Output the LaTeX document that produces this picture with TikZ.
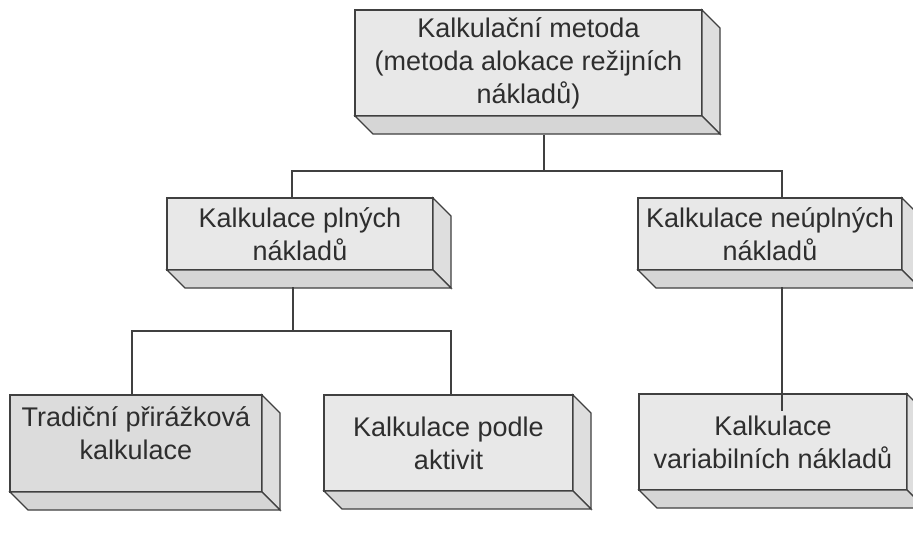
\documentclass[tikz,border=0pt]{standalone}
\usepackage{fontspec}
\setmainfont{Liberation Sans}
\definecolor{txt}{HTML}{2E2E2E}
\definecolor{edge}{HTML}{404040}
\definecolor{front}{HTML}{E8E8E8}
\definecolor{frontdk}{HTML}{DCDCDC}
\definecolor{rside}{HTML}{DEDEDE}
\definecolor{bside}{HTML}{D6D6D6}
\tikzset{
  box3d/.style={draw=edge, line width=1.3pt, fill=front, inner sep=0pt, outer sep=0pt,
    align=center, text=txt, font=\fontsize{27}{33}\selectfont},
  conn/.style={draw=edge, line width=1.1pt},
  face/.style={draw=edge, line width=1.3pt, line join=miter}
}
\begin{document}
\begin{tikzpicture}[x=1pt,y=-1pt]
\clip (0,0) rectangle (913,539);
\fill[white] (0,0) rectangle (913,539);

\node[box3d, minimum width=347pt, minimum height=106pt] (top) at (528.5,63)
  {Kalkulační metoda\\(metoda alokace režijních\\nákladů)};
\node[box3d, minimum width=266pt, minimum height=72pt] (pl) at (300,234)
  {Kalkulace plných\\nákladů};
\node[box3d, minimum width=264pt, minimum height=72pt] (np) at (770,234)
  {Kalkulace neúplných\\nákladů};
\node[box3d, minimum width=252pt, minimum height=97pt, text depth=20pt, fill=frontdk] (tk) at (136,443.5)
  {Tradiční přirážková\\kalkulace};
\node[box3d, minimum width=249pt, minimum height=96pt] (kp) at (448.5,443)
  {Kalkulace podle\\aktivit};
\node[box3d, minimum width=268pt, minimum height=96pt] (vn) at (773,442)
  {Kalkulace\\variabilních nákladů};

\foreach \n in {top,pl,np,tk,kp,vn}{
  \draw[face, fill=rside] (\n.north east) -- ++(18,18) -- ([shift={(18,18)}]\n.south east) -- (\n.south east) -- cycle;
  \draw[face, fill=bside] (\n.south west) -- (\n.south east) -- ++(18,18) -- ([shift={(18,18)}]\n.south west) -- cycle;
}

% connectors
\draw[conn] ([xshift=15.5pt,yshift=-19pt]top.south) -- ++(0,36) coordinate (j1) -| ([xshift=-8pt]pl.north);
\draw[conn] (j1) -| ([xshift=12pt]np.north);
\draw[conn] ([xshift=-7pt,yshift=-17pt]pl.south) -- ++(0,44) coordinate (j2) -| ([xshift=-4pt]tk.north);
\draw[conn] (j2) -| ([xshift=2.5pt]kp.north);
\draw[conn] ([xshift=12pt,yshift=-17pt]np.south) -- ([xshift=12pt,yshift=-17pt]np.south |- vn.north);
\end{tikzpicture}
\end{document}
